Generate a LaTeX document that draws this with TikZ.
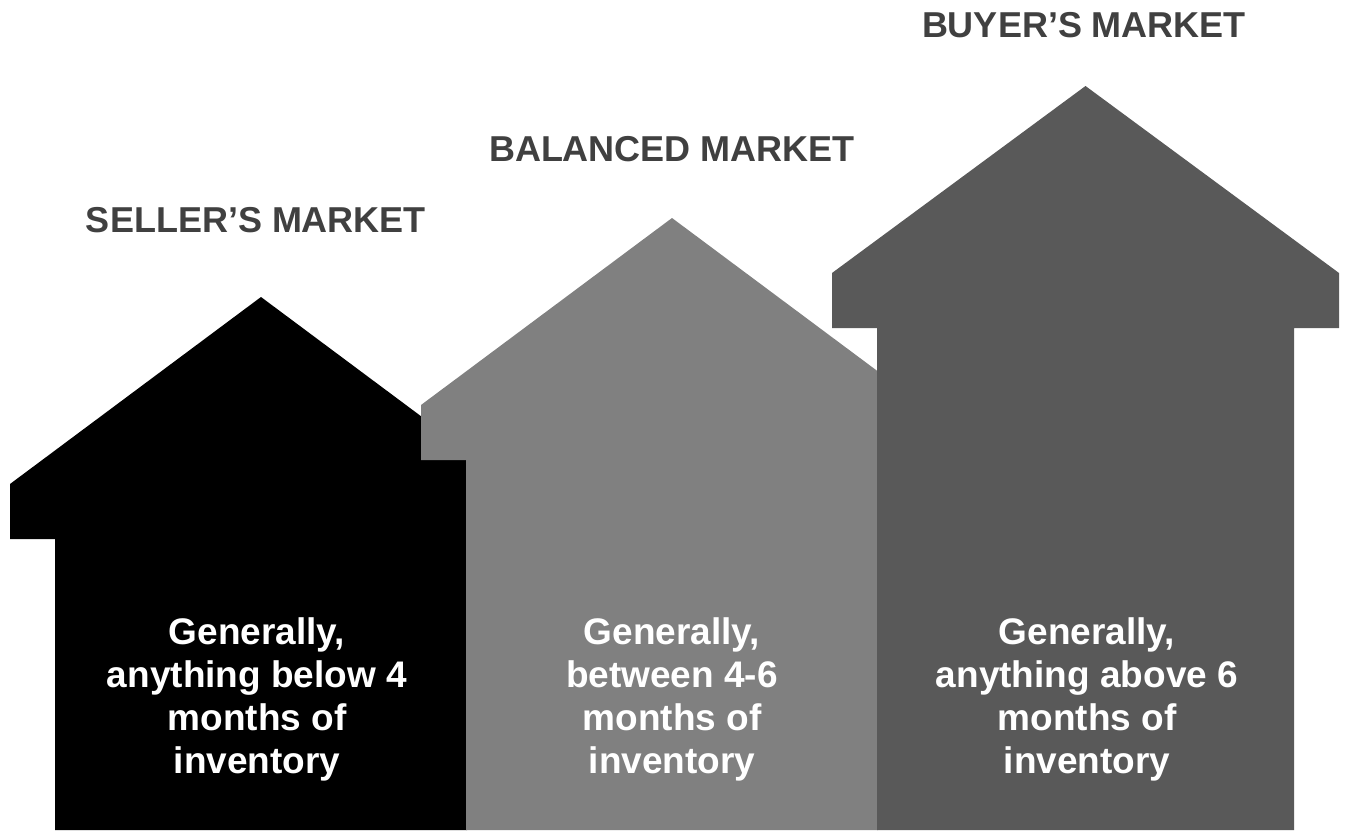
\documentclass[tikz,border=0pt]{standalone}
\usepackage{fontspec}
\setmainfont{Liberation Sans}
\usetikzlibrary{positioning}
\definecolor{balgray}{HTML}{808080}
\definecolor{buygray}{HTML}{595959}
\definecolor{titlegray}{HTML}{404040}
\tikzstyle{title} = [text=titlegray, font=\bfseries\fontsize{36}{43}\selectfont,
    anchor=base, inner sep=0pt]
\tikzstyle{desc} = [text=white, font=\bfseries\fontsize{37}{43}\selectfont,
    align=center, anchor=north, inner sep=0pt]
% house outline: fill colour, peak x, peak y, half width of the body
\newcommand{\house}[4]{%
  \fill[#1] (#2,#3) -- (#2+#4+45,#3+187) -- (#2+#4+45,#3+242) -- (#2+#4,#3+242)
    -- (#2+#4,830) -- (#2-#4,830) -- (#2-#4,#3+242) -- (#2-#4-45,#3+242)
    -- (#2-#4-45,#3+187) -- cycle;}

\begin{document}
\begin{tikzpicture}[x=1pt, y=-1pt]
    \useasboundingbox (0,0) rectangle (1348,830);
    % We start by drawing the houses, back to front
    \house{black}{261}{297}{206}
    \house{balgray}{672}{218}{206}
    \house{buygray}{1085.5}{86}{208.5}

    % Titles above the roofs
    \node [title] (sellertitle) at (256,232) {SELLER’S MARKET};
    \node [title] (baltitle) at (672,161) {BALANCED MARKET};
    \node [title] (buytitle) at (1084,37) {BUYER’S MARKET};

    % Texts inside the houses
    \node [desc] (sellertext) at (257,617) {Generally,\\anything below 4\\months of\\inventory};
    \node [desc] (baltext) at (672,617) {Generally,\\between 4-6\\months of\\inventory};
    \node [desc] (buytext) at (1087,617) {Generally,\\anything above 6\\months of\\inventory};
\end{tikzpicture}
\end{document}
